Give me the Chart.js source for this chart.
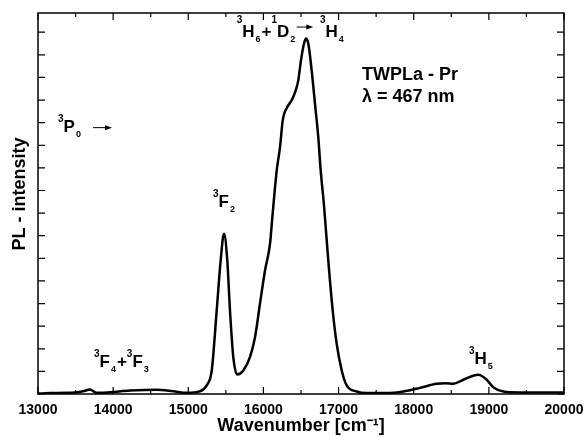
<!DOCTYPE html>
<html>
<head>
<meta charset="utf-8">
<script src="https://cdn.jsdelivr.net/npm/chart.js@4.4.1/dist/chart.umd.min.js"></script>
<style>
  html, body { margin: 0; padding: 0; background: #fff; }
</style>
</head>
<body>
<canvas id="espectro" width="584" height="437"></canvas>
<script>
// =======================================================================
// DADOS
// =======================================================================
const NUMERO_ONDA = [
  13000, 13160, 13400, 13515, 13600, 13692, 13781, 13958, 14224, 14580,
  14801, 14979, 15156, 15245, 15312, 15378, 15431, 15475, 15519, 15555,
  15599, 15652, 15732, 15821, 15888, 15954, 16021, 16088, 16115, 16177,
  16221, 16257, 16318, 16376, 16430, 16464, 16500, 16540, 16567, 16597,
  16642, 16686, 16730, 16762, 16806, 16863, 16922, 16975, 17042, 17108,
  17241, 17374, 17641, 17862, 18084, 18306, 18420, 18527, 18660, 18860,
  18971, 19059, 19192, 19415, 19700, 20000,
];
const INTENSIDADE = [
  0.02, 0.04, 0.05, 0.08, 0.12, 0.2, 0.05, 0.08, 0.15, 0.19,
  0.12, 0.05, 0.12, 0.38, 1.04, 3.69, 5.91, 7.09, 5.91, 3.69,
  1.63, 0.86, 1.04, 1.63, 2.51, 3.99, 5.46, 6.65, 7.68, 9.89,
  10.92, 12.1, 12.69, 12.99, 13.43, 13.87, 14.76, 15.5, 15.72, 15.5,
  14.31, 12.84, 11.36, 9.89, 8.34, 5.91, 3.69, 2.22, 1.04, 0.38,
  0.11, 0.04, 0.04, 0.11, 0.27, 0.45, 0.47, 0.45, 0.63, 0.85,
  0.63, 0.3, 0.11, 0.07, 0.07, 0.07,
];
const X_MIN = 13000;
const X_MAX = 20000;
const Y_MAX = 16.85;

// rótulos das transições (posição em unidades do gráfico)
const ROTULOS = [
  { x: 13266, y: 11.59, partes: [["3", "sup"], ["P", "main"], ["0", "sub"]] },
  {
    x: 15644, y: 15.79, subida: 14,
    partes: [["3", "sup"], ["H", "main"], ["6", "sub"], ["+", "main"], ["1", "sup"], ["D", "main"], ["2", "sub"]],
  },
  { x: 16753, y: 15.79, subida: 14, partes: [["3", "sup"], ["H", "main"], ["4", "sub"]] },
  { x: 15329, y: 8.27, partes: [["3", "sup"], ["F", "main"], ["2", "sub"]] },
  {
    x: 13745, y: 1.19,
    partes: [["3", "sup"], ["F", "main"], ["4", "sub"], ["+", "main"], ["3", "sup"], ["F", "main"], ["3", "sub"]],
  },
  { x: 18736, y: 1.33, partes: [["3", "sup"], ["H", "main"], ["5", "sub"]] },
];
const SETAS = [
  { x1: 13732, x2: 13985, y: 11.78 },
  { x1: 16443, x2: 16664, y: 16.23 },
];
const LEGENDA = [
  { texto: "TWPLa - Pr", x: 17312, y: 13.87 },
  { texto: "λ = 467 nm", x: 17312, y: 12.91 },
];

const FONTE = '"Liberation Sans", Arial, sans-serif';

// =======================================================================
// PLUGIN: moldura, ticks para dentro, anotações
// =======================================================================
function desenharRotulo(ctx, x, y, partes, subida) {
  partes.forEach(([txt, tipo]) => {
    if (tipo === "sup") {
      ctx.font = `bold 10px ${FONTE}`;
      ctx.fillText(txt, x, y - subida);
      x += ctx.measureText(txt).width;
    } else if (tipo === "sub") {
      ctx.font = `bold 9px ${FONTE}`;
      ctx.fillText(txt, x + 1, y + 5);
      x += ctx.measureText(txt).width + 2;
    } else {
      ctx.font = `bold 17px ${FONTE}`;
      ctx.fillText(txt, x, y);
      x += ctx.measureText(txt).width;
    }
  });
}

const moldura = {
  id: "moldura",
  afterDraw(chart) {
    const { ctx, chartArea: { left, right, top, bottom }, scales: { x, y } } = chart;
    ctx.save();
    ctx.strokeStyle = "#000";
    ctx.fillStyle = "#000";

    // ticks
    ctx.lineWidth = 1.2;
    ctx.beginPath();
    x.ticks.forEach((t) => {
      const px = x.getPixelForValue(t.value);
      const len = t.value % 1000 === 0 ? 7 : 4;
      ctx.moveTo(px, bottom);
      ctx.lineTo(px, bottom - len);
      ctx.moveTo(px, top);
      ctx.lineTo(px, top + len);
    });
    y.ticks.forEach((t) => {
      if (!Number.isInteger(t.value)) return;
      const py = y.getPixelForValue(t.value);
      ctx.moveTo(left, py);
      ctx.lineTo(left + 7, py);
      ctx.moveTo(right, py);
      ctx.lineTo(right - 7, py);
    });
    ctx.stroke();

    // moldura
    ctx.lineWidth = 1.5;
    ctx.strokeRect(left, top, right - left, bottom - top);

    // rótulos
    ctx.textAlign = "left";
    ctx.textBaseline = "alphabetic";
    ROTULOS.forEach((r) => {
      desenharRotulo(ctx, x.getPixelForValue(r.x), y.getPixelForValue(r.y), r.partes, r.subida || 10);
    });
    ctx.font = `bold 18px ${FONTE}`;
    LEGENDA.forEach((l) => {
      ctx.fillText(l.texto, x.getPixelForValue(l.x), y.getPixelForValue(l.y));
    });

    // setas
    ctx.lineWidth = 1;
    SETAS.forEach((s) => {
      const x1 = x.getPixelForValue(s.x1);
      const x2 = x.getPixelForValue(s.x2);
      const py = y.getPixelForValue(s.y);
      ctx.beginPath();
      ctx.moveTo(x1, py);
      ctx.lineTo(x2 - 6, py);
      ctx.stroke();
      ctx.beginPath();
      ctx.moveTo(x2, py);
      ctx.lineTo(x2 - 7, py - 2.5);
      ctx.lineTo(x2 - 7, py + 2.5);
      ctx.closePath();
      ctx.fill();
    });

    // título do eixo y
    ctx.save();
    ctx.translate(left - 18, (top + bottom) / 2 - 9.5);
    ctx.rotate(-Math.PI / 2);
    ctx.textAlign = "center";
    ctx.textBaseline = "middle";
    ctx.font = `bold 18px ${FONTE}`;
    ctx.fillText("PL - intensity", 0, 0);
    ctx.restore();

    ctx.restore();
  },
};

// =======================================================================
// GRÁFICO
// =======================================================================
const pontos = NUMERO_ONDA.map((v, i) => ({ x: v, y: INTENSIDADE[i] }));

new Chart(document.getElementById("espectro").getContext("2d"), {
  type: "line",
  data: {
    datasets: [
      {
        data: pontos,
        borderColor: "#000",
        borderWidth: 2.5,
        pointRadius: 0,
        cubicInterpolationMode: "monotone",
        fill: false,
      },
    ],
  },
  options: {
    responsive: false,
    animation: false,
    layout: { padding: { top: 13, right: 20, left: 0, bottom: 0 } },
    plugins: { legend: { display: false }, tooltip: { enabled: false } },
    scales: {
      x: {
        type: "linear",
        min: X_MIN,
        max: X_MAX,
        grid: { display: false },
        border: { display: false },
        ticks: {
          stepSize: 500,
          autoSkip: false,
          maxRotation: 0,
          padding: 0,
          color: "#000",
          font: { family: FONTE, size: 14, weight: "bold" },
          callback: (v) => (v % 1000 === 0 ? String(v) : ""),
        },
        title: {
          display: true,
          text: "Wavenumber [cm⁻¹]",
          color: "#000",
          font: { family: FONTE, size: 18, weight: "bold" },
          padding: { top: 0, bottom: 0 },
        },
        afterFit: (s) => { s.height = 43; },
      },
      y: {
        min: 0,
        max: Y_MAX,
        grid: { display: false },
        border: { display: false },
        ticks: { stepSize: 1, display: false },
        afterFit: (s) => { s.width = 38; },
      },
    },
  },
  plugins: [moldura],
});
</script>
</body>
</html>
